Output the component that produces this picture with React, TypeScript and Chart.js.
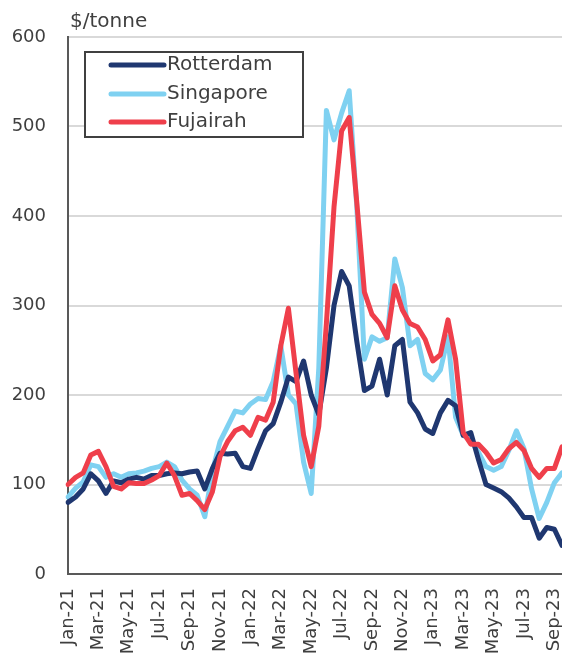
import React, { useEffect, useRef } from "react";
import { Chart, registerables } from "chart.js";

Chart.register(...registerables);

// Half-month periods from Jan-21 (first half) to Sep-23 (second half)
const MONTH_NAMES = ["Jan", "Feb", "Mar", "Apr", "May", "Jun", "Jul", "Aug", "Sep", "Oct", "Nov", "Dec"];
const PERIODS: string[] = [];
for (let y = 21; y <= 23; y++) {
  for (let m = 0; m < 12; m++) {
    if (y === 23 && m > 8) break;
    PERIODS.push(`${MONTH_NAMES[m]}-${y} H1`);
    PERIODS.push(`${MONTH_NAMES[m]}-${y} H2`);
  }
}

const TICK_LABELS = [
  "Jan-21", "Mar-21", "May-21", "Jul-21", "Sep-21", "Nov-21",
  "Jan-22", "Mar-22", "May-22", "Jul-22", "Sep-22", "Nov-22",
  "Jan-23", "Mar-23", "May-23", "Jul-23", "Sep-23",
];

const Y_TICKS_MIN = 0;
const Y_TICKS_MAX = 600;
const Y_TICKS_STEP = 100;
const UNIT_LABEL = "$/tonne";

const ROTTERDAM = [
  80, 86, 95, 112, 104, 90, 104, 102, 106, 108, 106, 110, 110, 112, 113, 112,
  114, 115, 95, 118, 135, 134, 135, 120, 118, 140, 160, 168, 192, 220, 215, 238,
  200, 178, 230, 300, 338, 322, 260, 205, 210, 240, 200, 255, 262, 192, 180, 162,
  157, 180, 194, 188, 155, 158, 128, 100, 96, 92, 85, 75, 63, 63, 40, 52,
  50, 32,
];

const SINGAPORE = [
  86, 96, 103, 122, 120, 108, 112, 108, 112, 113, 115, 118, 120, 125, 120, 105,
  95, 88, 64, 115, 148, 165, 182, 180, 190, 196, 195, 215, 255, 200, 190, 125,
  90, 230, 518, 485, 515, 540, 410, 240, 265, 260, 264, 352, 320, 255, 262, 224,
  217, 228, 265, 175, 155, 150, 136, 120, 116, 120, 138, 160, 140, 95, 62, 80,
  102, 113,
];

const FUJAIRAH = [
  100, 108, 113, 133, 137, 120, 98, 95, 102, 101, 101, 105, 110, 124, 110, 88,
  90, 82, 72, 92, 131, 148, 160, 164, 155, 175, 172, 192, 255, 297, 225, 155,
  120, 165, 280, 410, 495, 510, 415, 315, 290, 280, 264, 322, 295, 280, 276, 262,
  238, 245, 284, 240, 158, 145, 145, 136, 124, 128, 140, 147, 138, 118, 108, 118,
  118, 142,
];

const SERIES_NAMES = ["Rotterdam", "Singapore", "Fujairah"];
const COLORS = ["#1f3770", "#7fd1f1", "#ef3f4b"];

const FONT = "'DejaVu Sans', sans-serif";
const TEXT_COLOR = "#3f3f3f";

const overlayPlugin = {
  id: "overlay",
  afterDraw(chart: any) {
    const ctx = chart.ctx as CanvasRenderingContext2D;
    const area = chart.chartArea;
    ctx.save();
    // unit label above y axis
    ctx.font = `20px ${FONT}`;
    ctx.fillStyle = TEXT_COLOR;
    ctx.textAlign = "left";
    ctx.textBaseline = "middle";
    ctx.fillText(UNIT_LABEL, area.left + 2, 22);

    // legend box
    const bx = area.left + 17;
    const by = 52;
    const bw = 218;
    const bh = 85;
    ctx.fillStyle = "#ffffff";
    ctx.fillRect(bx, by, bw, bh);
    ctx.strokeStyle = "#404040";
    ctx.lineWidth = 2;
    ctx.strokeRect(bx, by, bw, bh);

    const rowY = [by + 13, by + 42, by + 70];
    chart.data.datasets.forEach((ds: any, i: number) => {
      const y = rowY[i];
      ctx.beginPath();
      ctx.strokeStyle = ds.borderColor;
      ctx.lineWidth = 5;
      ctx.lineCap = "round";
      ctx.moveTo(bx + 26, y);
      ctx.lineTo(bx + 79, y);
      ctx.stroke();
      ctx.fillStyle = TEXT_COLOR;
      ctx.font = `20px ${FONT}`;
      ctx.textAlign = "left";
      ctx.textBaseline = "middle";
      ctx.fillText(ds.label, bx + 82, y);
    });
    ctx.restore();
  },
};

export default function App() {
  const canvasRef = useRef<HTMLCanvasElement | null>(null);

  useEffect(() => {
    const canvas = canvasRef.current;
    if (!canvas) return;
    const seriesValues = [ROTTERDAM, SINGAPORE, FUJAIRAH];
    const drawOrder = [1, 2, 0];
    const chart = new Chart(canvas, {
      type: "line",
      data: {
        labels: PERIODS,
        datasets: SERIES_NAMES.map((name, i) => ({
          label: name,
          data: seriesValues[i],
          borderColor: COLORS[i],
          backgroundColor: COLORS[i],
          borderWidth: 5,
          pointRadius: 0,
          tension: 0,
          borderJoinStyle: "round" as const,
          borderCapStyle: "round" as const,
          order: drawOrder[i],
        })),
      },
      options: {
        animation: false,
        responsive: false,
        devicePixelRatio: 1,
        layout: { padding: { top: 37, left: 0, right: 0, bottom: 0 } },
        plugins: {
          legend: { display: false },
          title: { display: false },
          tooltip: { enabled: false },
        },
        scales: {
          x: {
            type: "category",
            ticks: {
              autoSkip: false,
              maxRotation: 90,
              minRotation: 90,
              padding: 14,
              color: TEXT_COLOR,
              font: { family: FONT, size: 18 },
              callback: (_v: any, i: number) => (i % 4 === 0 ? TICK_LABELS[i / 4] : ""),
            },
            grid: { display: false, drawTicks: false },
            border: { display: true, color: "#595959", width: 2 },
            afterFit: (scale: any) => {
              scale.height = 85;
              scale.paddingLeft = 0;
              scale.paddingRight = 0;
            },
          },
          y: {
            min: Y_TICKS_MIN,
            max: Y_TICKS_MAX,
            ticks: {
              stepSize: Y_TICKS_STEP,
              padding: 22,
              color: TEXT_COLOR,
              font: { family: FONT, size: 18 },
            },
            grid: { color: "#d9d9d9", lineWidth: 2, drawTicks: false },
            border: { display: true, color: "#595959", width: 2 },
            afterFit: (scale: any) => {
              scale.width = 68;
              scale.paddingTop = 0;
              scale.paddingBottom = 0;
            },
          },
        },
      },
      plugins: [overlayPlugin],
    });
    return () => chart.destroy();
  }, []);

  return (
    <div style={{ position: "absolute", left: 0, top: 0, width: 562, height: 659, background: "#fff" }}>
      <canvas ref={canvasRef} width={562} height={659} style={{ display: "block" }} />
    </div>
  );
}
